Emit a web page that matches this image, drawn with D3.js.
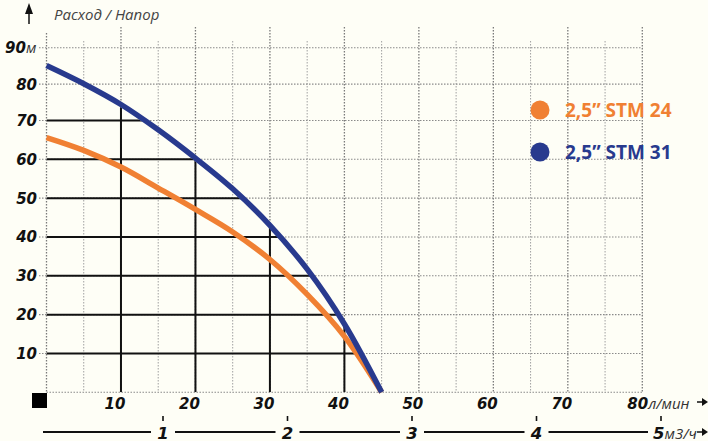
<!DOCTYPE html>
<html><head><meta charset="utf-8">
<script src="https://cdn.jsdelivr.net/npm/d3@7"></script>
<style>
html,body{margin:0;padding:0;background:#fefef6;}
svg{display:block;}
</style></head>
<body>
<script>
// ---- data ----
const flowLpm = [0, 5, 10, 15, 20, 25, 30, 35, 40, 45];
const headSTM24 = [65.6, 62.3, 58.0, 52.6, 47.1, 41.3, 34.2, 25.2, 14.4, 0];
const headSTM31 = [85.1, 80.1, 74.4, 67.6, 60.3, 52.4, 43.0, 31.7, 17.6, 0];
const seriesNames = ["2,5\u201D STM 24", "2,5\u201D STM 31"];
const seriesColors = ["#f08033", "#283a8e"];
const xTicks = [10, 20, 30, 40, 50, 60, 70, 80];
const yTicks = [10, 20, 30, 40, 50, 60, 70, 80, 90];
const m3Ticks = [1, 2, 3, 4, 5];
const solidY = [10, 20, 30, 40, 50, 60, 70];
const solidX = [10, 20, 30, 40];
const title = "Расход / Напор";
const unitY = "м", unitX = "л/мин", unitM3 = "м3/ч";

const W = 708, H = 441;
const svg = d3.select("body").append("svg").attr("width", W).attr("height", H);
svg.append("rect").attr("width", W).attr("height", H).attr("fill", "#fefef6");

const x = d3.scaleLinear().domain([0, 80]).range([46.5, 642.3]);
const y = d3.scaleLinear().domain([0, 60, 70, 90]).range([392.3, 159.3, 120.5, 47.7]);
const m3 = d3.scaleLinear().domain([1, 5]).range([163, 661]);

const numFont = "DejaVu Sans";
const unitFont = "Open Sans";

// ---- dotted grid ----
const grid = svg.append("g");
const vLines = d3.range(0, 81, 5);
grid.selectAll("line.v").data(vLines).join("line")
  .attr("x1", d => x(d)).attr("x2", d => x(d))
  .attr("y1", d => d === 0 ? 33 : (d % 10 === 0 ? 27 : 41))
  .attr("y2", y(0))
  .attr("stroke", d => d % 10 === 0 ? "#7a7a7a" : "#a0a0a0")
  .attr("stroke-width", d => d % 10 === 0 ? 1.3 : 1)
  .attr("stroke-dasharray", "1.5,1.5");
grid.selectAll("line.h").data([0].concat(yTicks)).join("line")
  .attr("x1", d => d === 0 ? x(0) : 39).attr("x2", x(80))
  .attr("y1", d => y(d)).attr("y2", d => y(d))
  .attr("stroke", "#8a8a8a").attr("stroke-width", 1.1)
  .attr("stroke-dasharray", "1.5,1.5");

// ---- solid grid clipped under STM31 curve ----
const curve = d3.curveCatmullRom.alpha(0.5);
const pts31 = flowLpm.map((f, i) => [f, headSTM31[i]]);
const areaGen = d3.area().x(d => x(d[0])).y0(y(0)).y1(d => y(d[1]) + 3).curve(curve);
svg.append("clipPath").attr("id", "under").append("path").attr("d", areaGen(pts31));
const solid = svg.append("g").attr("clip-path", "url(#under)");
solid.selectAll("line.sh").data(solidY).join("line")
  .attr("x1", x(0)).attr("x2", x(80))
  .attr("y1", d => y(d)).attr("y2", d => y(d))
  .attr("stroke", "#111").attr("stroke-width", 2);
solid.selectAll("line.sv").data(solidX).join("line")
  .attr("x1", d => x(d)).attr("x2", d => x(d))
  .attr("y1", y(90)).attr("y2", y(0))
  .attr("stroke", "#111").attr("stroke-width", 2);

// ---- curves ----
const lineGen = d3.line().x(d => x(d[0])).y(d => y(d[1])).curve(curve);
[headSTM24, headSTM31].forEach((vals, i) => {
  svg.append("path")
    .attr("d", lineGen(flowLpm.map((f, j) => [f, vals[j]])))
    .attr("fill", "none").attr("stroke", seriesColors[i])
    .attr("stroke-width", 5.5).attr("stroke-linecap", "butt");
});

// ---- y labels ----
const yl = svg.append("g");
yTicks.forEach(v => {
  const t = yl.append("text")
    .attr("y", y(v) + 5.5)
    .attr("font-family", numFont).attr("font-weight", "bold").attr("font-style", "italic")
    .attr("font-size", 15).attr("fill", "#111");
  if (v === 90) {
    t.attr("x", 5).attr("text-anchor", "start");
    t.append("tspan").text(v);
    t.append("tspan").attr("font-family", unitFont).attr("font-weight", "normal")
      .attr("font-size", 15).attr("fill", "#333").text(unitY);
  } else {
    t.attr("x", 37).attr("text-anchor", "end").text(v);
  }
});

// ---- x labels ----
const xl = svg.append("g");
xTicks.forEach(v => {
  const t = xl.append("text")
    .attr("x", x(v) - 6).attr("y", 409)
    .attr("font-family", numFont).attr("font-weight", "bold").attr("font-style", "italic")
    .attr("font-size", 15).attr("fill", "#111");
  if (v === 80) {
    t.attr("x", x(v) - 15).attr("text-anchor", "start");
    t.append("tspan").text(v);
    t.append("tspan").attr("font-family", unitFont).attr("font-weight", "normal")
      .attr("font-size", 15).attr("fill", "#333").text(unitX);
  } else {
    t.attr("text-anchor", "middle").text(v);
  }
});

// ---- m3/h axis ----
const ma = svg.append("g");
const segs = [[43, m3(1) - 12]];
for (let i = 0; i < m3Ticks.length - 1; i++) {
  segs.push([m3(m3Ticks[i]) + 12, m3(m3Ticks[i + 1]) - (i === m3Ticks.length - 2 ? 13 : 12)]);
}
ma.selectAll("line.seg").data(segs).join("line")
  .attr("x1", d => d[0]).attr("x2", d => d[1])
  .attr("y1", 432).attr("y2", 432).attr("stroke", "#111").attr("stroke-width", 1.8);
ma.selectAll("line.tk").data(m3Ticks).join("line")
  .attr("x1", d => m3(d)).attr("x2", d => m3(d))
  .attr("y1", 416).attr("y2", 421).attr("stroke", "#111").attr("stroke-width", 1.6);
m3Ticks.forEach(v => {
  const t = ma.append("text")
    .attr("x", m3(v)).attr("y", 438.5)
    .attr("font-family", numFont).attr("font-weight", "bold").attr("font-style", "italic")
    .attr("font-size", 16.5).attr("fill", "#111");
  if (v === 5) {
    t.attr("x", m3(v) - 8).attr("text-anchor", "start");
    t.append("tspan").text(v);
    t.append("tspan").attr("font-family", unitFont).attr("font-weight", "normal")
      .attr("font-size", 15).attr("fill", "#333").text(unitM3);
  } else {
    t.attr("text-anchor", "middle").text(v);
  }
});

// ---- arrows ----
function rightArrow(yy) {
  svg.append("line").attr("x1", 697).attr("x2", 703).attr("y1", yy).attr("y2", yy)
    .attr("stroke", "#111").attr("stroke-width", 1.5);
  svg.append("path").attr("d", `M702,${yy - 4}L708,${yy}L702,${yy + 4}Z`).attr("fill", "#111");
}
rightArrow(402);
rightArrow(432);
svg.append("line").attr("x1", 29).attr("x2", 29).attr("y1", 10).attr("y2", 24)
  .attr("stroke", "#111").attr("stroke-width", 1.5);
svg.append("path").attr("d", "M25,14L29,3L33,14Z").attr("fill", "#111");

// corner square
svg.append("rect").attr("x", 32).attr("y", 393).attr("width", 15).attr("height", 15).attr("fill", "#000");

// title
svg.append("text").attr("x", 54).attr("y", 20)
  .attr("font-family", unitFont).attr("font-style", "italic").attr("font-size", 15)
  .attr("fill", "#444").text(title);

// ---- legend ----
const leg = svg.append("g");
seriesNames.forEach((n, i) => {
  const cy = 110 + i * 42;
  leg.append("circle").attr("cx", 540).attr("cy", cy).attr("r", 9.5).attr("fill", seriesColors[i]);
  leg.append("text").attr("x", 565).attr("y", cy + 6.5)
    .attr("font-family", unitFont).attr("font-weight", "bold").attr("font-size", 19)
    .attr("fill", seriesColors[i]).text(n);
});
</script>
</body></html>
